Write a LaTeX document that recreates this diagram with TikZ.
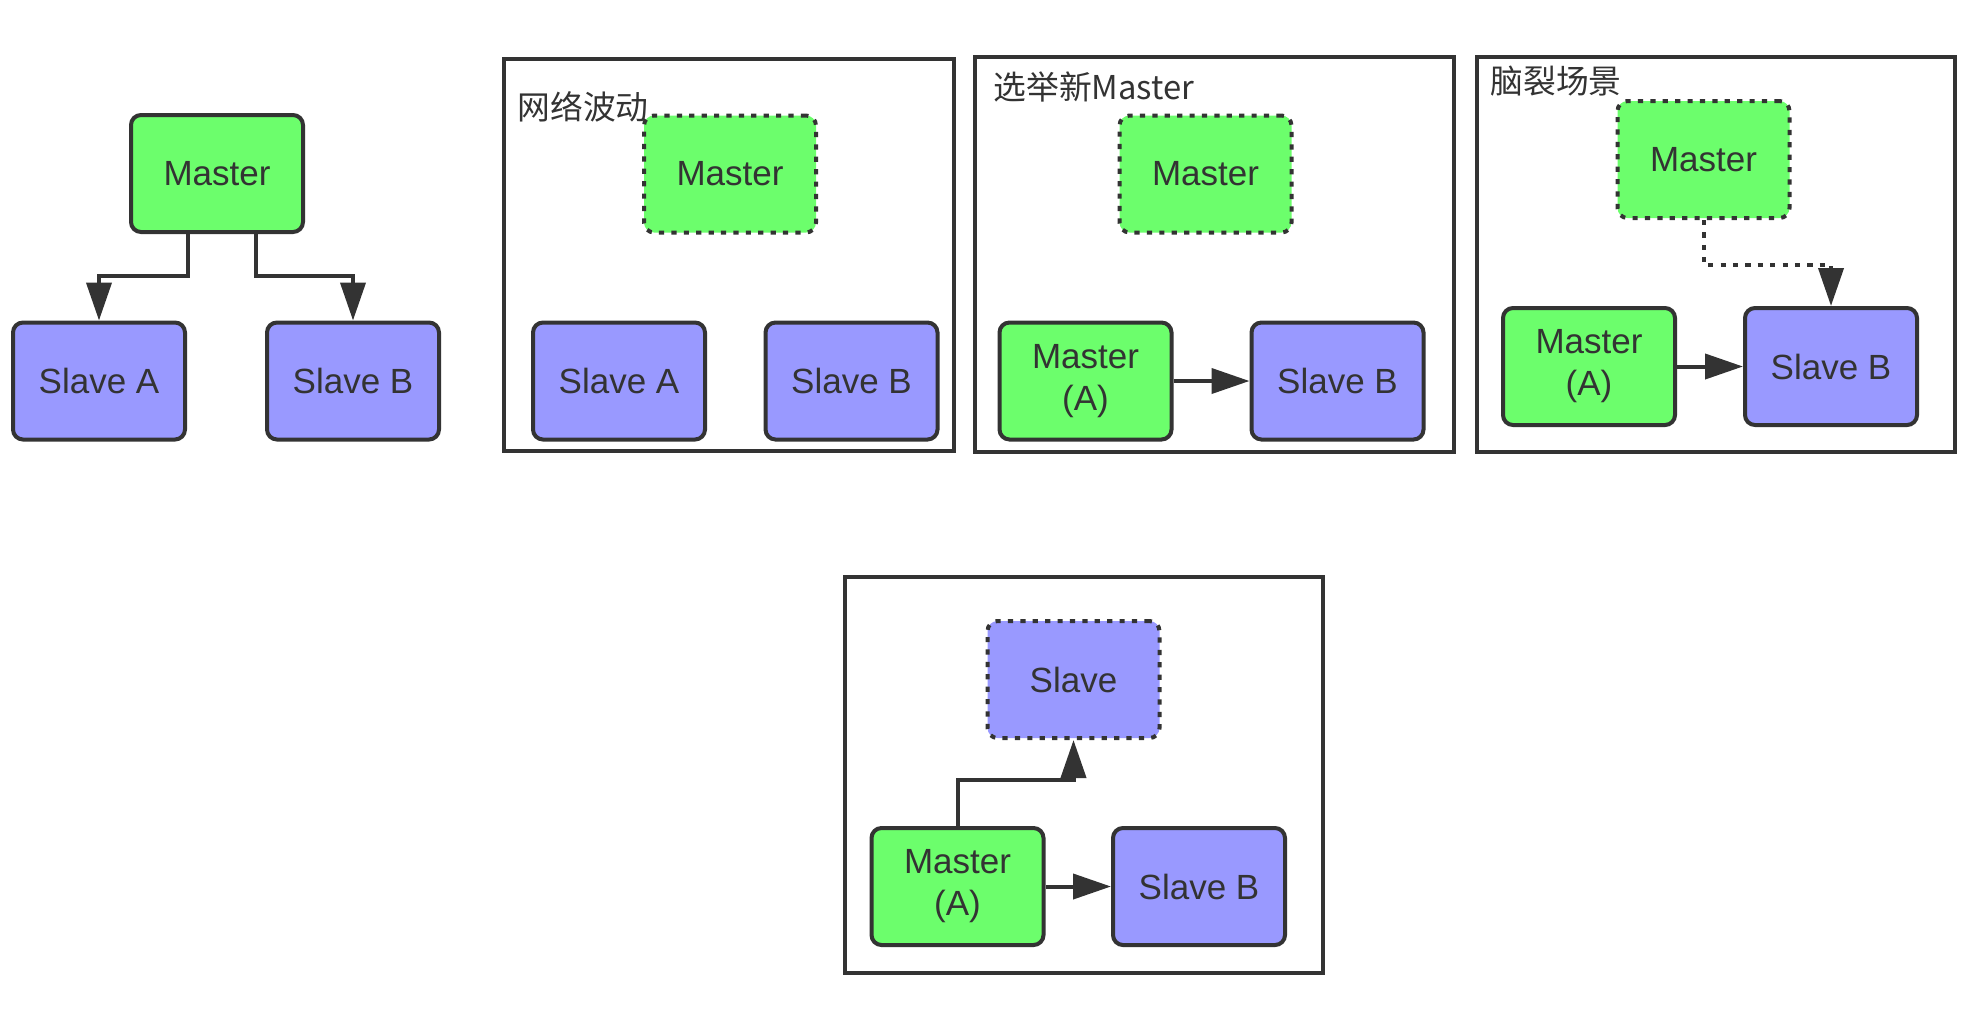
\documentclass[tikz,border=0pt]{standalone}
\usepackage{fontspec}
\setmainfont{Liberation Sans}
\newfontfamily\cjk{Noto Sans CJK SC}
\usetikzlibrary{arrows.meta}
\definecolor{gfill}{HTML}{6CFE6C}
\definecolor{bfill}{HTML}{9999FF}
\definecolor{edge}{HTML}{333333}
\begin{document}
\begin{tikzpicture}[x=0.5pt,y=-0.5pt,
 box/.style={draw=edge, line width=2pt, rounded corners=5pt, minimum width=86pt, minimum height=58.5pt, align=center, text=edge, font=\fontsize{17.5}{21}\selectfont, inner sep=0pt},
 gbox/.style={box, fill=gfill},
 bbox/.style={box, fill=bfill},
 dotbox/.style={dash pattern=on 2.6pt off 3.6pt},
 frame/.style={draw=edge, line width=2pt},
 arr/.style={draw=edge, line width=2pt, -{Triangle[length=19pt,width=12.5pt]}},
 dotarr/.style={arr, dash pattern=on 2.6pt off 3.6pt},
 lab/.style={anchor=west, text=edge, font=\cjk\fontsize{16.4}{20}\selectfont, inner sep=0pt}]
\useasboundingbox (0,0) rectangle (1980,1014);

% group 0
\node[gbox] (m0) at (217,173.5) {Master};
\node[bbox] (sa0) at (99,381) {Slave A};
\node[bbox] (sb0) at (353,381) {Slave B};
\draw[arr] ([shift={(-29,0)}]m0.south) -- ++(0,42) -| (sa0.north);
\draw[arr] ([shift={(39,0)}]m0.south) -- ++(0,42) -| (sb0.north);

% frame 1
\draw[frame] (504,59) rectangle (954,451);
\node[lab] (l1) at (517,107) {网络波动};
\node[gbox,dotbox] (dm1) at (730,174) {Master};
\node[bbox] (sa1) at (619,381) {Slave A};
\node[bbox] (sb1) at (851.5,381) {Slave B};

% frame 2
\draw[frame] (975,57) rectangle (1454,452);
\node[lab] (l2) at (993,87) {选举新Master};
\node[gbox,dotbox] (dm2) at (1205.5,174) {Master};
\node[gbox] (m2) at (1085.5,381) {Master\\(A)};
\node[bbox] (sb2) at (1337.5,381) {Slave B};
\draw[arr] (m2.east) -- (sb2.west);

% frame 3
\draw[frame] (1477,57) rectangle (1955,452);
\node[lab] (l3) at (1490,81) {脑裂场景};
\node[gbox,dotbox] (dm3) at (1703.5,159.5) {Master};
\node[gbox] (m3) at (1589,366.5) {Master\\(A)};
\node[bbox] (sb3) at (1831,366.5) {Slave B};
\draw[arr] (m3.east) -- (sb3.west);
\draw[dotarr] (dm3.south) -- ++(0,45) -| (sb3.north);

% frame 4
\draw[frame] (845,577) rectangle (1323,973);
\node[bbox,dotbox] (ds4) at (1073.5,679.5) {Slave};
\node[gbox] (m4) at (957.5,886.5) {Master\\(A)};
\node[bbox] (sb4) at (1199,886.5) {Slave B};
\draw[arr] (m4.east) -- (sb4.west);
\draw[arr] (m4.north) -- ++(0,-46) -| (ds4.south);
\end{tikzpicture}
\end{document}
